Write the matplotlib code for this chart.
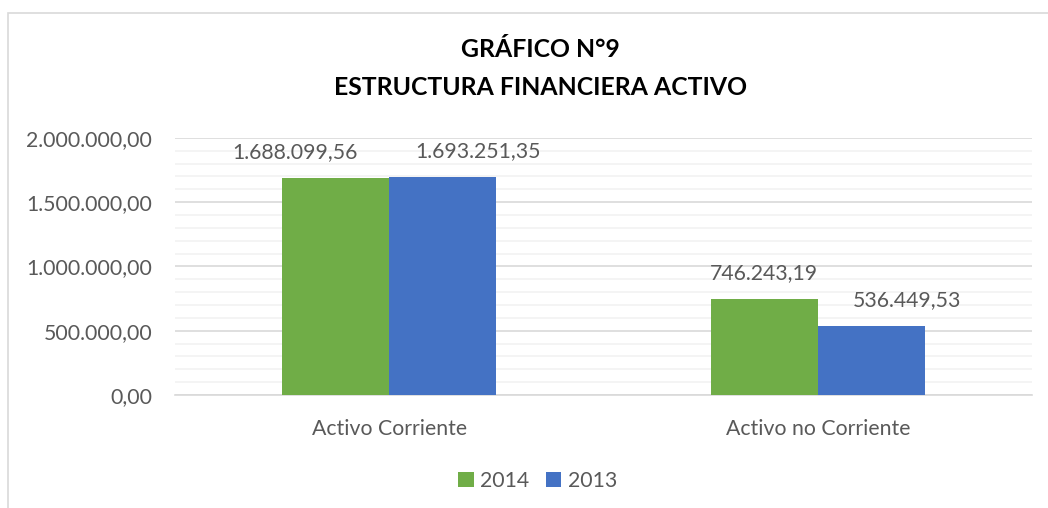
import matplotlib.pyplot as plt
import matplotlib.ticker as mticker
from matplotlib.patches import Rectangle
import numpy as np

plt.rcParams['font.family'] = ['Lato', 'DejaVu Sans']

# data
categories = ['Activo Corriente', 'Activo no Corriente']
years = ['2014', '2013']
values_2014 = [1688099.56, 746243.19]
values_2013 = [1693251.35, 536449.53]

colors = ['#70AD47', '#4472C4']
txt_col = '#595959'


def es_fmt(v, pos=None):
    # spanish number format: 1.234.567,89
    s = '{:,.2f}'.format(v)
    return s.replace(',', 'X').replace('.', ',').replace('X', '.')


fig = plt.figure(figsize=(10.48, 5.08), dpi=100)
ax = fig.add_axes([0.167, 0.2224, 0.818, 0.5063])

# outer chart frame (left and top edges visible)
fig.patches.append(Rectangle((8 / 1048, -0.2), 2, 1.2 - 13 / 508,
                             transform=fig.transFigure, fill=False,
                             edgecolor='#D9D9D9', linewidth=1.2))

x = np.arange(len(categories))
w = 0.25
b1 = ax.bar(x - w / 2, values_2014, w, color=colors[0], label=years[0], zorder=3)
b2 = ax.bar(x + w / 2, values_2013, w, color=colors[1], label=years[1], zorder=3)

# data labels (excel nudges some of them sideways)
shifts_2014 = [-41, 0]
shifts_2013 = [35, 35]
for bars, vals, shifts in [(b1, values_2014, shifts_2014), (b2, values_2013, shifts_2013)]:
    for bar, v, s in zip(bars, vals, shifts):
        ax.annotate(es_fmt(v), (bar.get_x() + bar.get_width() / 2, v),
                    xytext=(s * 0.72, 18.5), textcoords='offset points',
                    ha='center', va='center', fontsize=15.3, color=txt_col)

ax.set_xlim(-0.5, 1.5)
ax.set_ylim(0, 2000000)
ax.yaxis.set_major_locator(mticker.MultipleLocator(500000))
ax.yaxis.set_minor_locator(mticker.MultipleLocator(100000))
ax.yaxis.set_major_formatter(mticker.FuncFormatter(es_fmt))
ax.grid(axis='y', which='major', color='#D9D9D9', linewidth=1.2, zorder=0)
ax.grid(axis='y', which='minor', color='#F2F2F2', linewidth=1.2, zorder=0)
ax.set_xticks(x)
ax.set_xticklabels(categories)
ax.tick_params(axis='both', which='both', length=0, labelsize=15.3, colors=txt_col)
ax.tick_params(axis='y', pad=16.5)
ax.tick_params(axis='x', pad=17)
for sp in ['top', 'right', 'left']:
    ax.spines[sp].set_visible(False)
ax.spines['bottom'].set_color('#D9D9D9')
ax.spines['bottom'].set_linewidth(1.2)

fig.text(0.5155, 0.902, 'GRÁFICO N°9', ha='center', va='center',
         fontsize=17.8, fontweight='bold', color='black')
fig.text(0.5155, 0.827, 'ESTRUCTURA FINANCIERA ACTIVO', ha='center', va='center',
         fontsize=17.8, fontweight='bold', color='black')

leg = fig.legend(handles=[b1, b2], labels=years, loc='center', bbox_to_anchor=(0.513, 0.053),
                 ncol=2, frameon=False, fontsize=15.3, handlelength=0.75, handleheight=0.75,
                 handletextpad=0.3, columnspacing=0.75)
for t in leg.get_texts():
    t.set_color(txt_col)

fig.savefig('out.png', dpi=100)
